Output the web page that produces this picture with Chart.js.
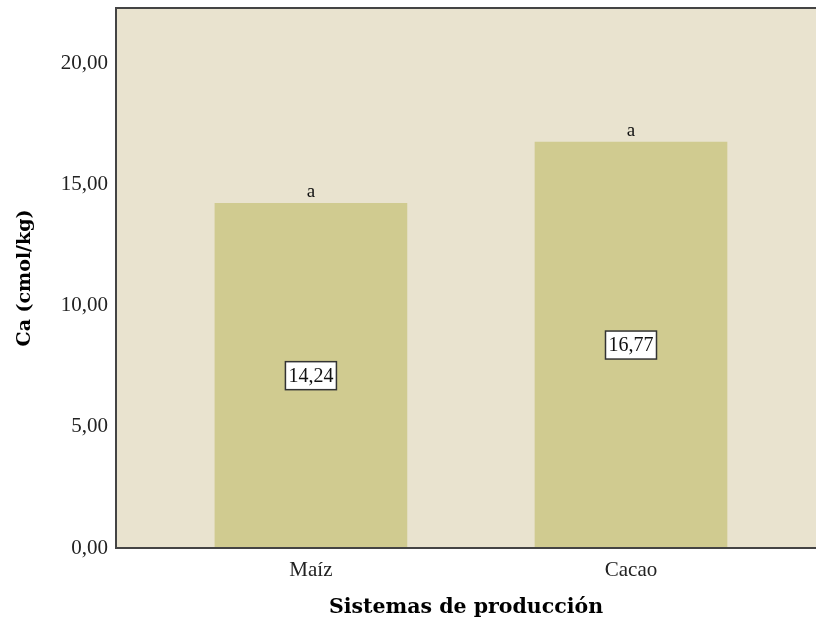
<!DOCTYPE html>
<html>
<head>
<meta charset="utf-8">
<script src="https://cdn.jsdelivr.net/npm/chart.js@4/dist/chart.umd.min.js"></script>
<style>
html,body{margin:0;padding:0;background:#fff;overflow:hidden;}
#wrap{width:816px;height:625px;position:relative;}
</style>
</head>
<body>
<div id="wrap"><canvas id="c" width="816" height="625"></canvas></div>
<script>
const categories = ['Maíz', 'Cacao'];
const caValues = [14.24, 16.77];
const groupLetters = ['a', 'a'];
const yTickValues = [0, 5, 10, 15, 20];
const yTitle = 'Ca (cmol/kg)';
const xTitle = 'Sistemas de producción';

const fmt = v => v.toFixed(2).replace('.', ',');

const framePlugin = {
  id: 'frame',
  beforeDatasetsDraw(chart) {
    const {ctx, chartArea: a} = chart;
    ctx.save();
    ctx.fillStyle = '#E9E3CF';
    ctx.fillRect(a.left, a.top, a.right - a.left, a.bottom - a.top);
    ctx.restore();
  },
  afterDatasetsDraw(chart) {
    const {ctx, chartArea: a} = chart;
    ctx.save();
    ctx.strokeStyle = '#444444';
    ctx.lineWidth = 2;
    ctx.beginPath();
    ctx.moveTo(a.right + 2, a.top);
    ctx.lineTo(a.left, a.top);
    ctx.lineTo(a.left, a.bottom);
    ctx.lineTo(a.right + 2, a.bottom);
    ctx.stroke();
    const meta = chart.getDatasetMeta(0);
    meta.data.forEach((bar, i) => {
      const v = caValues[i];
      ctx.fillStyle = '#111';
      ctx.textAlign = 'center';
      ctx.textBaseline = 'alphabetic';
      ctx.font = '19px "Liberation Serif"';
      ctx.fillText(groupLetters[i], bar.x, bar.y - 6);
      const yMid = (bar.y + bar.base) / 2;
      ctx.font = '20px "Liberation Serif"';
      const txt = fmt(v);
      const w = ctx.measureText(txt).width + 6;
      const h = 28;
      ctx.fillStyle = '#ffffff';
      ctx.fillRect(bar.x - w / 2, yMid - h / 2, w, h);
      ctx.strokeStyle = '#333';
      ctx.lineWidth = 1.5;
      ctx.strokeRect(bar.x - w / 2, yMid - h / 2, w, h);
      ctx.fillStyle = '#111';
      ctx.textBaseline = 'middle';
      ctx.fillText(txt, bar.x, yMid + 1);
    });
    ctx.restore();
  }
};

new Chart(document.getElementById('c'), {
  type: 'bar',
  data: {
    datasets: [{
      data: categories.map((c, i) => ({x: i, y: caValues[i]})),
      backgroundColor: '#D0CB90',
      borderWidth: 0,
      barThickness: 192
    }]
  },
  options: {
    responsive: false,
    animation: false,
    devicePixelRatio: 1,
    layout: {padding: {top: 8, right: 0, left: 0, bottom: 0}},
    plugins: {legend: {display: false}, tooltip: {enabled: false}},
    scales: {
      x: {
        type: 'linear',
        offset: false,
        min: -0.609,
        max: 1.578,
        grid: {display: false, drawTicks: false, offset: false},
        border: {display: false},
        afterBuildTicks: s => { s.ticks = categories.map((c, i) => ({value: i})); },
        afterFit: s => { s.height = 77; s.paddingLeft = 0; s.paddingRight = 0; },
        ticks: {
          padding: 10,
          color: '#222',
          font: {family: 'Liberation Serif', size: 21},
          callback: v => categories[v] ?? ''
        },
        title: {
          display: true,
          text: xTitle,
          color: '#000',
          font: {family: 'DejaVu Serif', size: 20.5, weight: 'bold'},
          padding: {top: 0, bottom: 5}
        }
      },
      y: {
        min: 0,
        max: 22.31,
        grid: {display: false, drawTicks: false},
        border: {display: false},
        afterBuildTicks: s => { s.ticks = yTickValues.map(v => ({value: v})); },
        afterFit: s => { s.width = 116; s.paddingTop = 0; s.paddingBottom = 0; },
        ticks: {
          padding: 8,
          color: '#222',
          font: {family: 'Liberation Serif', size: 21},
          callback: v => fmt(v)
        },
        title: {
          display: true,
          text: yTitle,
          color: '#000',
          font: {family: 'DejaVu Serif', size: 19, weight: 'bold'},
          padding: {top: 14, bottom: 0}
        }
      }
    }
  },
  plugins: [framePlugin]
});
</script>
</body>
</html>
